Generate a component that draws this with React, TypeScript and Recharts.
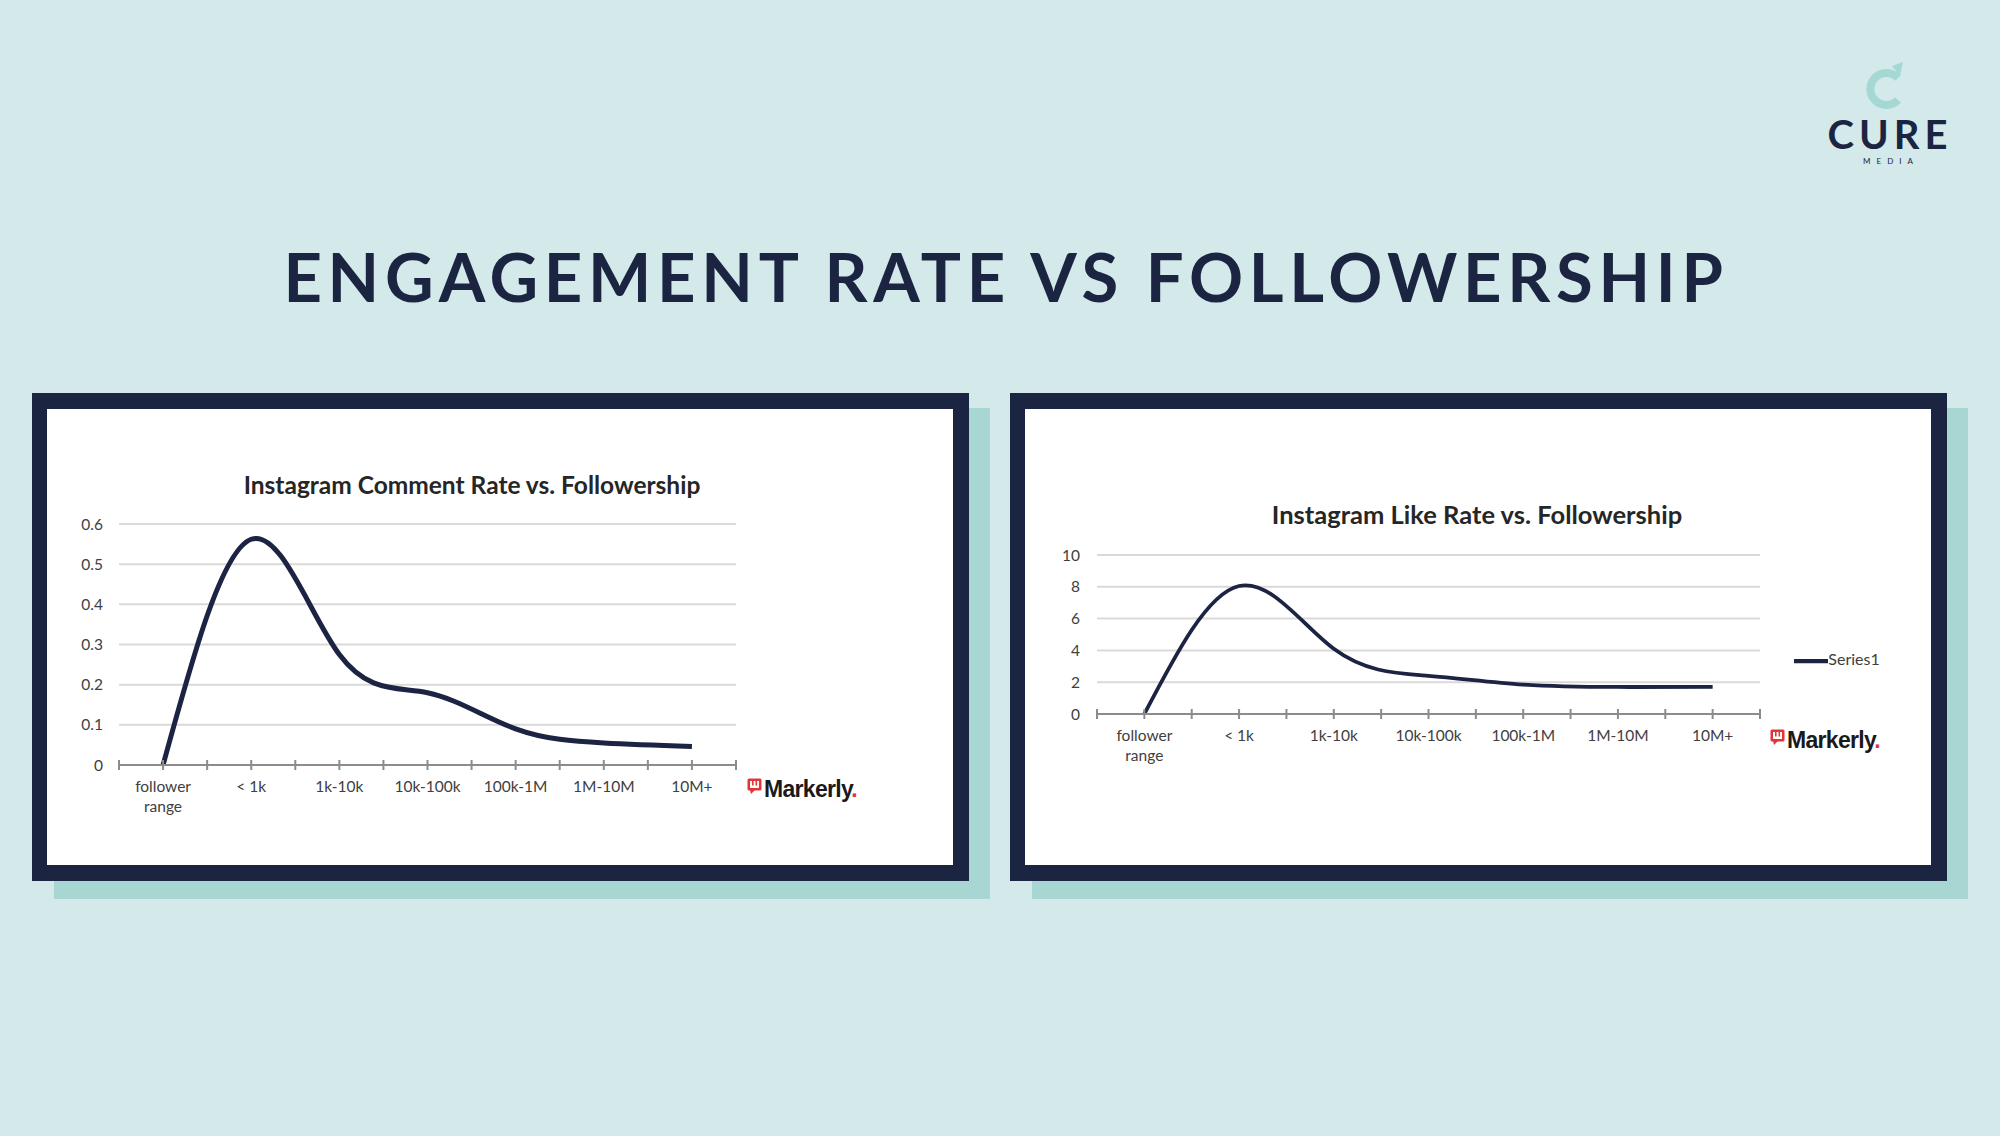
import React from "react";
import { LineChart, Line, XAxis, YAxis, CartesianGrid, Legend } from "recharts";

const categories = ["follower range", "< 1k", "1k-10k", "10k-100k", "100k-1M", "1M-10M", "10M+"];
const commentRate = [0, 0.562, 0.275, 0.18, 0.09, 0.055, 0.046];
const likeRate = [0, 8.05, 4.1, 2.4, 1.85, 1.7, 1.7];
const commentTicks = [0, 0.1, 0.2, 0.3, 0.4, 0.5, 0.6];
const likeTicks = [0, 2, 4, 6, 8, 10];

const commentData = categories.map((c, i) => ({ range: c, rate: commentRate[i] }));
const likeData = categories.map((c, i) => ({ range: c, Series1: likeRate[i] }));

const NAVY = "#1b2440";
const LINE = "#1c2343";
const FONT = "Lato, 'Noto Sans', sans-serif";

function makeTick(halfBand: number, count: number) {
  return (props: any) => {
    const { x, y, payload, index } = props;
    const v = String(payload.value);
    const lines = v.includes(" ") && v.length > 8 ? v.split(" ") : [v];
    return (
      <g>
        <line x1={x} x2={x} y1={y - 5} y2={y + 5} stroke="#8c8c8c" strokeWidth={2} />
        <line x1={x - halfBand} x2={x - halfBand} y1={y - 5} y2={y + 5} stroke="#8c8c8c" strokeWidth={2} />
        {index === count - 1 && (
          <line x1={x + halfBand} x2={x + halfBand} y1={y - 5} y2={y + 5} stroke="#8c8c8c" strokeWidth={2} />
        )}
        {lines.map((l, i) => (
          <text key={i} x={x} y={y + 27 + i * 20} textAnchor="middle" fontSize={15.5} fill="#404040" fontFamily={FONT}>
            {l}
          </text>
        ))}
      </g>
    );
  };
}

function Markerly({ left, top }: { left: number; top: number }) {
  return (
    <div style={{ position: "absolute", left, top, display: "flex", alignItems: "flex-start" }}>
      <svg width={15} height={17} style={{ marginTop: 2, marginRight: 2 }}>
        <rect x={0.5} y={0.5} width={14} height={12} rx={1.5} fill="#e0363b" />
        <polygon points="3,12 8,12 4,16" fill="#e0363b" />
        <rect x={3} y={3} width={9} height={7} fill="#fff" />
        <rect x={5} y={3} width={1.6} height={4.5} fill="#e0363b" />
        <rect x={8.5} y={3} width={1.6} height={4.5} fill="#e0363b" />
      </svg>
      <span style={{ fontFamily: "'Liberation Sans', Arial, sans-serif", fontWeight: 700, fontSize: 23, color: "#1a1a1a", letterSpacing: -0.7, lineHeight: "26px" }}>
        Markerly<span style={{ color: "#e0363b" }}>.</span>
      </span>
    </div>
  );
}

function Frame({ x }: { x: number }) {
  return (
    <>
      <div style={{ position: "absolute", left: x + 22, top: 408, width: 936, height: 491, background: "#a8d7d3" }} />
      <div style={{ position: "absolute", left: x, top: 393, width: 937, height: 488, background: NAVY }} />
      <div style={{ position: "absolute", left: x + 15, top: 409, width: 906, height: 456, background: "#ffffff" }} />
    </>
  );
}

export default function App() {
  const leftHalf = (689 - 72) / 7 / 2;
  const rightHalf = (735 - 72) / 7 / 2;
  return (
    <div style={{ position: "absolute", left: 0, top: 0, width: 2000, height: 1136, background: "#d3e9ea", overflow: "hidden", fontFamily: FONT }}>
      {/* logo */}
      <svg style={{ position: "absolute", left: 1862, top: 60 }} width={50} height={52}>
        <path d="M 36 18 A 16 16 0 1 0 36 40" fill="none" stroke="#a5d8d2" strokeWidth={8} />
        <path d="M 30 6 L 41 2 L 38 16 Z" fill="#a5d8d2" />
      </svg>
      <div style={{ position: "absolute", left: 1785, top: 112, width: 200, textAlign: "center", fontFamily: FONT, fontWeight: 700, fontSize: 40, letterSpacing: 5, color: NAVY, lineHeight: "44px", paddingLeft: 5 }}>
        CURE
      </div>
      <div style={{ position: "absolute", left: 1785, top: 156, width: 200, textAlign: "center", fontFamily: FONT, fontSize: 8, letterSpacing: 6, color: NAVY, lineHeight: "10px", paddingLeft: 6 }}>
        MEDIA
      </div>

      <div style={{ position: "absolute", left: 0, top: 236, width: 2000, textAlign: "center", fontFamily: FONT, fontWeight: 700, fontSize: 67, letterSpacing: 5.7, color: NAVY, lineHeight: "80px", paddingLeft: 6 }}>
        ENGAGEMENT RATE VS FOLLOWERSHIP
      </div>

      <Frame x={32} />
      <Frame x={1010} />

      {/* left chart */}
      <div style={{ position: "absolute", left: 172, top: 470, width: 600, textAlign: "center", fontSize: 24.5, fontWeight: 700, color: "#262626", lineHeight: "30px" }}>
        Instagram Comment Rate vs. Followership
      </div>
      <div style={{ position: "absolute", left: 47, top: 409 }}>
        <LineChart width={906} height={456} data={commentData} margin={{ top: 115, right: 217, bottom: 40, left: 0 }}>
          <CartesianGrid vertical={false} stroke="#d9d9d9" strokeWidth={2} />
          <XAxis
            dataKey="range"
            interval={0}
            height={60}
            tickSize={0}
            tickMargin={0}
            padding={{ left: leftHalf, right: leftHalf }}
            axisLine={{ stroke: "#8c8c8c", strokeWidth: 2 }}
            tickLine={false}
            tick={makeTick(leftHalf, categories.length)}
          />
          <YAxis
            domain={[0, 0.6]}
            ticks={commentTicks}
            width={72}
            axisLine={false}
            tickLine={false}
            tickSize={0}
            tickMargin={16}
            tick={{ fontSize: 15.5, fill: "#404040", fontFamily: FONT }}
          />
          <Line type="natural" dataKey="rate" stroke={LINE} strokeWidth={5} dot={false} isAnimationActive={false} />
        </LineChart>
      </div>
      <Markerly left={747} top={776} />

      {/* right chart */}
      <div style={{ position: "absolute", left: 1177, top: 499, width: 600, textAlign: "center", fontSize: 25.5, fontWeight: 700, color: "#262626", lineHeight: "30px" }}>
        Instagram Like Rate vs. Followership
      </div>
      <div style={{ position: "absolute", left: 1025, top: 409 }}>
        <LineChart width={906} height={456} data={likeData} margin={{ top: 146, right: 171, bottom: 91, left: 0 }}>
          <CartesianGrid vertical={false} stroke="#d9d9d9" strokeWidth={2} />
          <XAxis
            dataKey="range"
            interval={0}
            height={60}
            tickSize={0}
            tickMargin={0}
            padding={{ left: rightHalf, right: rightHalf }}
            axisLine={{ stroke: "#8c8c8c", strokeWidth: 2 }}
            tickLine={false}
            tick={makeTick(rightHalf, categories.length)}
          />
          <YAxis
            domain={[0, 10]}
            ticks={likeTicks}
            width={72}
            axisLine={false}
            tickLine={false}
            tickSize={0}
            tickMargin={17}
            tick={{ fontSize: 15.5, fill: "#404040", fontFamily: FONT }}
          />
          <Legend
            layout="horizontal"
            verticalAlign="middle"
            align="center"
            iconType="plainline"
            iconSize={34}
            wrapperStyle={{ left: 762, top: 235, width: 110 }}
            formatter={(v: string) => <span style={{ color: "#404040", fontSize: 16, fontFamily: FONT, marginLeft: -4 }}>{v}</span>}
          />
          <Line type="natural" dataKey="Series1" stroke={LINE} strokeWidth={3.8} dot={false} isAnimationActive={false} />
        </LineChart>
      </div>
      <Markerly left={1770} top={727} />
    </div>
  );
}
